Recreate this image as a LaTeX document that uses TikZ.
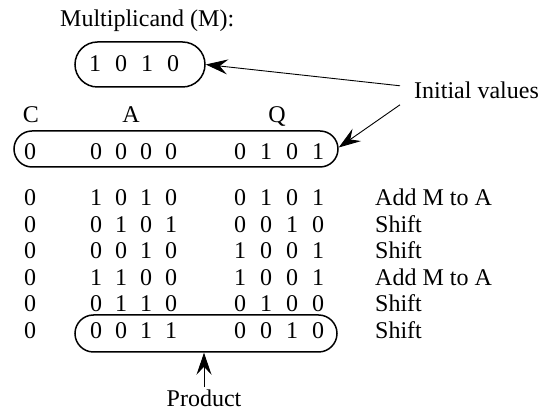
\documentclass[tikz,border=0pt]{standalone}
\usepackage{fontspec}
\setmainfont{Liberation Serif}
\usetikzlibrary{arrows.meta}
\begin{document}
\begin{tikzpicture}[x=1pt,y=-1pt,
  font=\fontsize{24}{26}\selectfont,
  txt/.style={inner sep=0pt, anchor=base},
  lbl/.style={inner sep=0pt, anchor=base west},
  pill/.style={draw, line width=1.5pt, rounded corners=#1, inner sep=0pt},
  arr/.style={-{Stealth[length=22pt,width=15pt,inset=8pt]}, line width=0.9pt}]
\useasboundingbox (0,0) rectangle (542,419);

% multiplicand
\node[lbl] (mult) at (60,27) {Multiplicand (M):};
\node[pill=22.5pt, minimum width=130pt, minimum height=45pt] (mbox) at (140,64.5) {};
\foreach \d [count=\i] in {1,0,1,0}
  \node[txt] (m\i) at ({95+26*(\i-1)},72) {\d};

% initial values
\node[lbl] (init) at (414,99) {Initial values};

% header
\node[txt] (hc) at (31,123) {C};
\node[txt] (ha) at (131,123) {A};
\node[txt] (hq) at (277,123) {Q};

% initial row box
\node[pill=18pt, minimum width=324pt, minimum height=36pt] (ibox) at (176,149) {};
\node[txt] (c0) at (30,160) {0};
\foreach \d [count=\i] in {0,0,0,0}
  \node[txt] (a0\i) at ({96+25*(\i-1)},160) {\d};
\foreach \d [count=\i] in {0,1,0,1}
  \node[txt] (q0\i) at ({240+26*(\i-1)},160) {\d};

% rows
\foreach \y/\a/\q/\t [count=\r] in {
  206/{1,0,1,0}/{0,1,0,1}/{Add M to A},
  232.5/{0,1,0,1}/{0,0,1,0}/{Shift},
  259/{0,0,1,0}/{1,0,0,1}/{Shift},
  285.5/{1,1,0,0}/{1,0,0,1}/{Add M to A},
  312/{0,1,1,0}/{0,1,0,0}/{Shift},
  338.5/{0,0,1,1}/{0,0,1,0}/{Shift}} {
  \node[txt] (c\r) at (30,\y) {0};
  \foreach \d [count=\i] in \a
    \node[txt] (a\r\i) at ({96+25*(\i-1)},\y) {\d};
  \foreach \d [count=\i] in \q
    \node[txt] (q\r\i) at ({240+26*(\i-1)},\y) {\d};
  \node[lbl] (t\r) at (375,\y) {\t};
}

% product box
\node[pill=18.5pt, minimum width=262pt, minimum height=37pt] (pbox) at (206,333.5) {};
\node[txt] (prod) at (204,407) {Product};

% arrows
\draw[arr] ([xshift=-14pt,yshift=5pt]init.west) -- (mbox.east);
\draw[arr] ([xshift=-14pt,yshift=-14pt]init.west) -- ([yshift=1.5pt]ibox.east);
\draw[arr] ([yshift=3pt]prod.north) -- (prod.north |- pbox.south);
\end{tikzpicture}
\end{document}
